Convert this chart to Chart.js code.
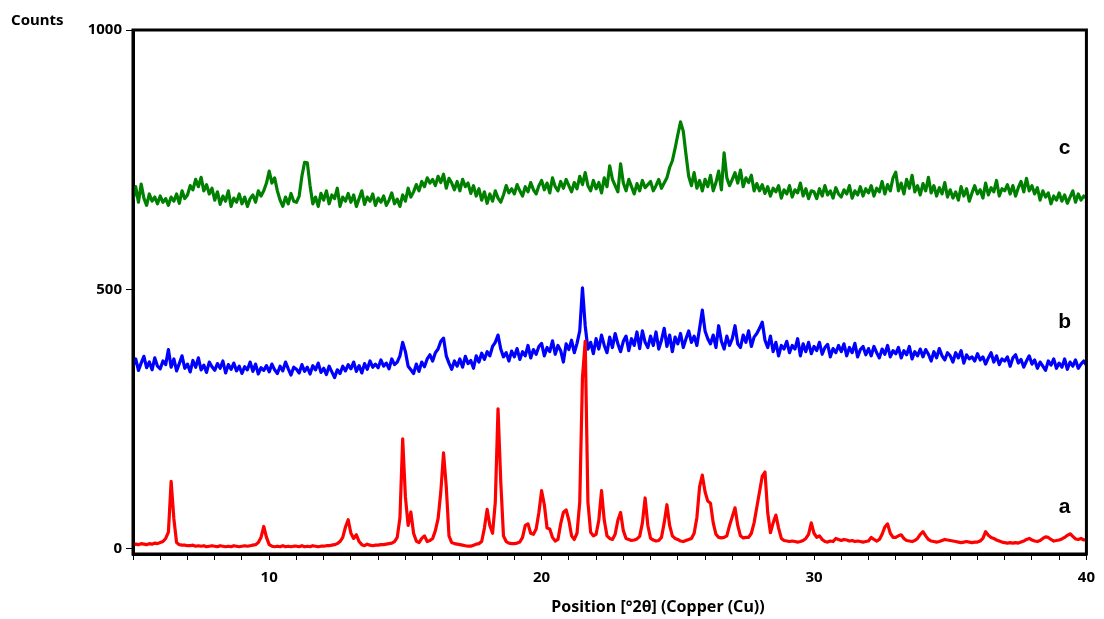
<!DOCTYPE html>
<html>
<head>
<meta charset="utf-8">
<title>XRD patterns</title>
<script src="https://cdn.jsdelivr.net/npm/chart.js@4/dist/chart.umd.min.js"></script>
<style>
    html, body { margin: 0; padding: 0; background: #ffffff; }
    #chart-box { position: relative; width: 1104px; height: 619px; }
</style>
</head>
<body>
<div id="chart-box"><canvas id="chart1" width="1104" height="619"></canvas></div>
<script>
'use strict';

// scan runs from 5 to 40 °2θ, one reading every 0.1 °
const angle_start = 5;
const angle_step = 0.1;

// each row is one degree: x.0, x.1 ... x.9
const counts_a = [
    8, 9, 8, 10, 9, 8, 10, 9, 11, 10,               // 5
    12, 14, 20, 32, 130, 58, 12, 8, 7, 7,           // 6
    6, 6, 7, 5, 6, 5, 6, 4, 5, 6,                   // 7
    5, 4, 6, 5, 4, 5, 4, 6, 5, 4,                   // 8
    5, 6, 5, 6, 7, 8, 12, 22, 43, 22,               // 9
    8, 5, 4, 5, 4, 6, 4, 5, 4, 5,                   // 10
    5, 4, 6, 4, 5, 4, 6, 5, 4, 5,                   // 11
    5, 6, 6, 7, 8, 10, 14, 22, 42, 56,              // 12
    30, 20, 27, 14, 8, 6, 9, 7, 6, 7,               // 13
    7, 8, 8, 9, 10, 11, 14, 22, 60, 212,            // 14
    100, 45, 71, 30, 15, 12, 20, 25, 14, 16,        // 15
    20, 35, 58, 110, 185, 120, 25, 12, 10, 9,       // 16
    8, 7, 6, 5, 5, 7, 9, 10, 14, 40,                // 17
    76, 45, 30, 90, 270, 130, 25, 14, 11, 10,       // 18
    10, 11, 13, 22, 45, 48, 30, 28, 38, 70,         // 19
    112, 85, 40, 38, 22, 15, 18, 48, 70, 75,        // 20
    55, 25, 18, 30, 90, 330, 400, 90, 32, 25,       // 21
    28, 55, 112, 55, 25, 20, 18, 28, 55, 70,        // 22
    35, 20, 18, 16, 17, 19, 24, 50, 98, 45,         // 23
    20, 17, 15, 16, 22, 50, 85, 45, 25, 20,         // 24
    18, 15, 14, 16, 18, 20, 30, 60, 120, 142,       // 25
    110, 92, 88, 50, 28, 22, 21, 22, 25, 45,        // 26
    62, 79, 45, 25, 21, 22, 22, 30, 50, 80,         // 27
    110, 140, 148, 70, 31, 50, 65, 40, 20, 16,      // 28
    15, 14, 15, 14, 13, 14, 16, 20, 28, 50,         // 29
    30, 22, 25, 18, 14, 13, 15, 14, 20, 18,         // 30
    16, 18, 17, 15, 16, 14, 15, 14, 13, 14,         // 31
    15, 22, 18, 15, 18, 28, 42, 48, 30, 22,         // 32
    22, 25, 27, 20, 16, 15, 14, 16, 20, 28,         // 33
    33, 25, 18, 15, 14, 13, 14, 16, 18, 17,         // 34
    16, 15, 14, 13, 12, 13, 14, 13, 12, 13,         // 35
    13, 15, 20, 33, 26, 22, 20, 17, 15, 13,         // 36
    12, 11, 12, 11, 12, 11, 13, 15, 18, 20,         // 37
    17, 15, 14, 16, 20, 23, 22, 18, 15, 16,         // 38
    17, 19, 22, 26, 29, 24, 19, 18, 20, 17,         // 39
    18                                              // 40
];

const counts_b = [
    352, 366, 344, 358, 371, 349, 360, 345, 368, 352,   // 5
    347, 362, 355, 384, 350, 366, 343, 357, 372, 348,   // 6
    356, 341, 363, 350, 368, 345, 354, 340, 360, 351,   // 7
    344, 357, 348, 362, 339, 355, 346, 358, 343, 352,   // 8
    338, 351, 345, 360, 342, 356, 337, 349, 344, 353,   // 9
    341, 356, 345, 338, 352, 343, 360, 347, 335, 350,   // 10
    346, 339, 355, 342, 350, 337, 353, 345, 358, 340,   // 11
    348, 336, 352, 341, 330, 345, 338, 352, 343, 355,   // 12
    347, 360, 342, 353, 339, 357, 346, 362, 350, 356,   // 13
    349, 364, 352, 358, 347, 366, 355, 360, 372, 398,   // 14
    380, 352, 345, 338, 356, 342, 360, 351, 366, 374,   // 15
    362, 378, 385, 400, 406, 372, 358, 346, 362, 352,   // 16
    366, 350, 371, 357, 363, 348, 372, 360, 377, 365,   // 17
    380, 372, 390, 398, 412, 385, 370, 378, 362, 381,   // 18
    370, 386, 365, 380, 372, 392, 368, 384, 375, 390,   // 19
    396, 372, 388, 380, 401, 375, 392, 382, 360, 395,   // 20
    384, 402, 378, 396, 420, 503, 430, 385, 398, 376,   // 21
    405, 385, 412, 392, 378, 408, 388, 415, 395, 380,   // 22
    400, 410, 382, 405, 392, 418, 386, 420, 398, 388,   // 23
    410, 392, 418, 385, 402, 425, 390, 412, 380, 408,   // 24
    395, 415, 388, 405, 420, 398, 410, 392, 425, 460,   // 25
    420, 405, 395, 412, 388, 430, 400, 385, 410, 392,   // 26
    405, 430, 395, 388, 412, 398, 420, 390, 408, 415,   // 27
    425, 437, 402, 388, 410, 380, 398, 372, 392, 385,   // 28
    400, 378, 392, 385, 405, 372, 395, 380, 398, 376,   // 29
    390, 382, 398, 375, 388, 394, 370, 386, 378, 392,   // 30
    380, 395, 372, 388, 378, 396, 370, 384, 390, 374,   // 31
    386, 372, 390, 378, 368, 385, 375, 392, 370, 382,   // 32
    376, 388, 368, 382, 374, 390, 366, 380, 372, 385,   // 33
    370, 384, 375, 362, 380, 368, 386, 372, 364, 378,   // 34
    372, 360, 378, 368, 382, 358, 374, 366, 370, 362,   // 35
    376, 364, 370, 356, 368, 378, 360, 372, 355, 366,   // 36
    362, 370, 352, 368, 374, 358, 365, 350, 362, 372,   // 37
    356, 364, 348, 360, 352, 344, 362, 354, 366, 348,   // 38
    358, 350, 366, 346, 360, 352, 364, 348, 356, 362,   // 39
    354                                                 // 40
];

const counts_c = [
    672, 698, 668, 703, 676, 662, 684, 670, 678, 665,   // 5
    680, 668, 675, 662, 678, 670, 684, 666, 690, 675,   // 6
    682, 700, 692, 712, 698, 716, 690, 702, 684, 695,   // 7
    672, 688, 664, 680, 670, 690, 660, 676, 668, 684,   // 8
    665, 678, 660, 675, 682, 668, 690, 680, 690, 705,   // 9
    728, 705, 715, 690, 672, 660, 678, 665, 685, 670,   // 10
    668, 680, 718, 745, 744, 700, 665, 678, 660, 685,   // 11
    672, 690, 665, 682, 675, 695, 660, 678, 670, 685,   // 12
    668, 682, 660, 675, 690, 664, 678, 670, 684, 662,   // 13
    676, 668, 680, 662, 672, 686, 665, 674, 660, 682,   // 14
    670, 695, 678, 688, 702, 690, 708, 698, 715, 705,   // 15
    712, 700, 718, 706, 722, 695, 714, 705, 692, 708,   // 16
    690, 712, 698, 705, 685, 700, 680, 694, 672, 688,   // 17
    666, 684, 670, 690, 676, 668, 682, 700, 686, 694,   // 18
    684, 702, 690, 680, 698, 688, 706, 692, 684, 700,   // 19
    710, 692, 705, 686, 715, 698, 690, 708, 695, 712,   // 20
    700, 688, 706, 694, 718, 702, 725, 700, 690, 710,   // 21
    694, 706, 686, 715, 698, 738, 712, 700, 688, 742,   // 22
    705, 690, 712, 698, 684, 704, 690, 710, 696, 702,   // 23
    708, 690, 700, 712, 695, 705, 715, 735, 748, 772,   // 24
    798, 823, 805, 760, 718, 700, 725, 695, 710, 690,   // 25
    712, 698, 720, 690, 706, 728, 692, 763, 715, 700,   // 26
    712, 725, 705, 730, 698, 715, 706, 720, 690, 704,   // 27
    690, 702, 685, 698, 680, 695, 688, 700, 676, 692,   // 28
    684, 700, 678, 692, 686, 705, 680, 694, 675, 690,   // 29
    688, 675, 694, 680, 700, 682, 690, 676, 696, 684,   // 30
    678, 692, 684, 700, 676, 690, 682, 698, 680, 694,   // 31
    686, 700, 680, 695, 688, 708, 684, 702, 690, 715,   // 32
    726, 690, 705, 684, 712, 695, 720, 688, 700, 682,   // 33
    704, 690, 716, 686, 700, 680, 696, 684, 706, 678,   // 34
    692, 676, 688, 672, 698, 680, 694, 670, 686, 700,   // 35
    684, 692, 676, 705, 682, 696, 688, 710, 680, 694,   // 36
    690, 702, 684, 700, 680, 696, 708, 688, 714, 690,   // 37
    700, 684, 696, 672, 690, 678, 686, 665, 680, 672,   // 38
    686, 670, 682, 666, 678, 690, 668, 684, 672, 680,   // 39
    676                                                 // 40
];

const series_names = ["a", "b", "c"];
const series_colors = ["#ff0000", "#0000ff", "#008000"];
const y_tick_values = [0, 500, 1000];
const x_label_every = 10;

// where the a / b / c markers sit, in data units
const name_x = 39.2;
const name_y = [81, 437, 773];

const bold_font = "'Noto Sans', 'DejaVu Sans', sans-serif";

const to_points = counts => counts.map((y, i) => ({ x: +(angle_start + i * angle_step).toFixed(1), y: y }));

const frame_plugin = {
    id: "frame",
    afterDraw: chart => {
        const { ctx, chartArea, scales } = chart;
        ctx.save();
        ctx.strokeStyle = "#000000";
        ctx.lineWidth = 3;
        ctx.strokeRect(chartArea.left, chartArea.top, chartArea.right - chartArea.left, chartArea.bottom - chartArea.top);

        // series letters
        ctx.fillStyle = "#000000";
        ctx.font = "bold 21px 'Liberation Sans', Arial, sans-serif";
        ctx.textAlign = "center";
        ctx.textBaseline = "middle";
        series_names.forEach((name, i) => {
            ctx.fillText(name, scales.x.getPixelForValue(name_x), scales.y.getPixelForValue(name_y[i]));
        });

        // axis captions
        ctx.font = `bold 15px ${bold_font}`;
        ctx.textAlign = "left";
        ctx.fillText("Counts", 11, 21);
        ctx.font = `bold 16px ${bold_font}`;
        ctx.textAlign = "center";
        ctx.fillText("Position [°2θ] (Copper (Cu))", 658, 607);
        ctx.restore();
    }
};

const create_chart = () => {
    const chart1 = document.querySelector("#chart1");
    const all_counts = [counts_a, counts_b, counts_c];

    new Chart(chart1, {
        type: "line",
        data: {
            datasets: all_counts.map((counts, i) => ({
                label: series_names[i],
                data: to_points(counts),
                borderColor: series_colors[i],
                borderWidth: 3.2,
                borderJoinStyle: "round",
                pointRadius: 0,
                tension: 0,
                fill: false
            }))
        },
        options: {
            responsive: false,
            animation: false,
            devicePixelRatio: 1,
            layout: { padding: { left: 0, right: 14, top: 30, bottom: 0 } },
            plugins: {
                legend: { display: false },
                tooltip: { enabled: false }
            },
            scales: {
                x: {
                    type: "linear",
                    min: 5,
                    max: 40,
                    afterFit: scale => { scale.height = 65; },
                    border: { display: true, color: "#000000", width: 3 },
                    grid: { drawOnChartArea: false, drawTicks: true, tickLength: 6, color: "#000000", lineWidth: 1 },
                    ticks: {
                        stepSize: 1,
                        autoSkip: false,
                        maxRotation: 0,
                        padding: 9,
                        color: "#000000",
                        font: { family: bold_font, size: 15, weight: "bold" },
                        callback: value => value % x_label_every === 0 ? String(value) : ""
                    }
                },
                y: {
                    type: "linear",
                    min: -10,
                    max: 1000,
                    afterFit: scale => { scale.width = 133; },
                    afterBuildTicks: scale => { scale.ticks = y_tick_values.map(v => ({ value: v })); },
                    border: { display: true, color: "#000000", width: 3 },
                    grid: { drawOnChartArea: false, drawTicks: true, tickLength: 7, color: "#000000", lineWidth: 1 },
                    ticks: {
                        padding: 4,
                        color: "#000000",
                        font: { family: bold_font, size: 15, weight: "bold" },
                        callback: value => String(value)
                    }
                }
            }
        },
        plugins: [frame_plugin]
    });
}

create_chart();
</script>
</body>
</html>
